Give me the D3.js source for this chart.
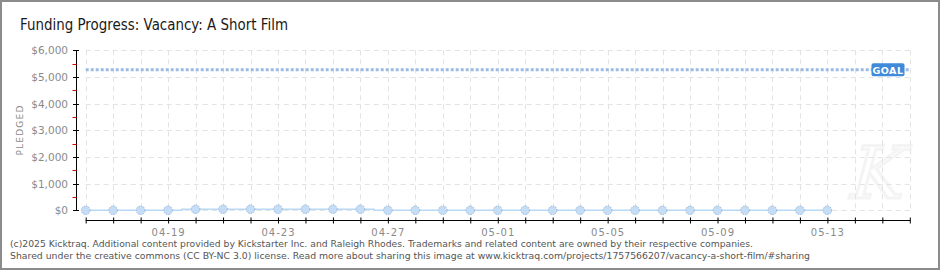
<!DOCTYPE html>
<html>
<head>
<meta charset="utf-8">
<script src="https://cdnjs.cloudflare.com/ajax/libs/d3/7.8.5/d3.min.js"></script>
<style>
  html, body { margin: 0; padding: 0; background: #fff; }
  svg { display: block; }
</style>
</head>
<body>
<div id="chart"></div>
<script>
// Данные графика
const DATES = ['04-16','04-17','04-18','04-19','04-20','04-21','04-22','04-23','04-24','04-25',
               '04-26','04-27','04-28','04-29','04-30','05-01','05-02','05-03','05-04','05-05',
               '05-06','05-07','05-08','05-09','05-10','05-11','05-12','05-13'];
const PLEDGED = [0,0,0,0,40,40,40,40,40,40,40,0,0,0,0,0,0,0,0,0,0,0,0,0,0,0,0,0];
const GOAL = 5270;
const X_DOMAIN = ['04-16','05-16'];
const X_LABELS = ['04-19','04-23','04-27','05-01','05-05','05-09','05-13'];
const Y_TICKS = [0,1000,2000,3000,4000,5000,6000];
const Y_MINOR = [500,1500,2500,3500,4500,5500];

const YEAR = 2025;
const parseDay = s => d3.timeParse('%Y-%m-%d')(`${YEAR}-${s}`);
const fmtDay = d3.timeFormat('%m-%d');

const W = 940, H = 270;
const svg = d3.select('#chart').append('svg')
    .attr('width', W).attr('height', H);

// Рамка
svg.append('rect')
    .attr('x', 1).attr('y', 1)
    .attr('width', W - 2).attr('height', H - 2)
    .attr('fill', '#fff')
    .attr('stroke', '#8c8c8c')
    .attr('stroke-width', 2);

const x = d3.scaleTime()
    .domain(X_DOMAIN.map(parseDay))
    .range([85.7, 909.8]);
const y = d3.scaleLinear()
    .domain([0, 6000])
    .range([210.3, 50.3]);

const days = d3.timeDay.range(parseDay(X_DOMAIN[0]), d3.timeDay.offset(parseDay(X_DOMAIN[1]), 1));

// Водяной знак
svg.append('text')
    .attr('transform', 'translate(872,198) skewX(-15)')
    .attr('text-anchor', 'middle')
    .attr('font-family', 'DejaVu Serif')
    .attr('font-size', 72)
    .attr('fill', 'none')
    .attr('stroke', '#f4f4f4')
    .attr('stroke-width', 3)
    .text('K');

// Сетка
svg.append('g').selectAll('line')
    .data(days)
    .enter().append('line')
    .attr('x1', d => Math.round(x(d)) + 0.5).attr('x2', d => Math.round(x(d)) + 0.5)
    .attr('y1', y(6000)).attr('y2', y(0))
    .attr('stroke', '#e3e3e3').attr('stroke-dasharray', '5,4');

svg.append('g').selectAll('line')
    .data(Y_TICKS)
    .enter().append('line')
    .attr('x1', x.range()[0]).attr('x2', x.range()[1])
    .attr('y1', d => Math.round(y(d)) + 0.5).attr('y2', d => Math.round(y(d)) + 0.5)
    .attr('stroke', '#e3e3e3').attr('stroke-dasharray', '5,4');

// Ось Y
const yAxisX = 76.5;
svg.append('line')
    .attr('x1', yAxisX).attr('x2', yAxisX)
    .attr('y1', y(6000)).attr('y2', y(0))
    .attr('stroke', '#000');
svg.append('g').selectAll('line')
    .data(Y_MINOR)
    .enter().append('line')
    .attr('x1', 72.5).attr('x2', yAxisX)
    .attr('y1', d => Math.round(y(d)) + 0.5).attr('y2', d => Math.round(y(d)) + 0.5)
    .attr('stroke', '#e00000');
svg.append('g').selectAll('line')
    .data(Y_TICKS)
    .enter().append('line')
    .attr('x1', 73).attr('x2', 79)
    .attr('y1', d => Math.round(y(d)) + 0.5).attr('y2', d => Math.round(y(d)) + 0.5)
    .attr('stroke', '#000');
svg.append('g').selectAll('text')
    .data(Y_TICKS)
    .enter().append('text')
    .attr('x', 68).attr('y', d => y(d) + 4)
    .attr('text-anchor', 'end')
    .attr('font-family', 'DejaVu Sans')
    .attr('font-size', 10.5)
    .attr('fill', '#8a8a8a')
    .text(d => '$' + d3.format(',')(d));

svg.append('text')
    .attr('transform', 'translate(23,130) rotate(-90)')
    .attr('text-anchor', 'middle')
    .attr('font-family', 'DejaVu Sans')
    .attr('font-size', 9)
    .attr('letter-spacing', 1.2)
    .attr('fill', '#8a8a8a')
    .text('PLEDGED');

// Ось X
const xAxisY = 220.5;
const xAxis = d3.axisBottom(x)
    .tickValues(days)
    .tickSize(0)
    .tickPadding(8)
    .tickFormat(d => X_LABELS.includes(fmtDay(d)) ? fmtDay(d) : '');
const gx = svg.append('g')
    .attr('transform', `translate(0,${xAxisY})`)
    .call(xAxis);
gx.select('.domain').attr('stroke', '#000').attr('d', `M${x.range()[0]},0H${x.range()[1] + 0.5}`);
gx.selectAll('.tick line').attr('y1', -3).attr('y2', 3).attr('stroke', '#000');
gx.selectAll('.tick text')
    .attr('font-family', 'DejaVu Sans')
    .attr('font-size', 10)
    .attr('letter-spacing', 1)
    .attr('fill', '#8a8a8a');

// Линия цели
svg.append('line')
    .attr('x1', x.range()[0]).attr('x2', x.range()[1])
    .attr('y1', y(GOAL)).attr('y2', y(GOAL))
    .attr('stroke', '#9bbbe3')
    .attr('stroke-width', 3)
    .attr('stroke-dasharray', '3,2');

const goalG = svg.append('g')
    .attr('transform', `translate(888,${y(GOAL)})`);
goalG.append('rect')
    .attr('x', -16.5).attr('y', -6.5)
    .attr('width', 33).attr('height', 13)
    .attr('rx', 2)
    .attr('fill', '#3f8ad9');
goalG.append('text')
    .attr('x', 0).attr('y', 3.8)
    .attr('text-anchor', 'middle')
    .attr('font-family', 'DejaVu Sans')
    .attr('font-weight', 'bold')
    .attr('font-size', 9.5)
    .attr('letter-spacing', 0.5)
    .attr('fill', '#fff')
    .text('GOAL');

// Серия
const series = DATES.map((d, i) => ({ date: parseDay(d), value: PLEDGED[i] }));
svg.append('path')
    .datum(series)
    .attr('fill', 'none')
    .attr('stroke', '#b9d8f6')
    .attr('stroke-width', 1.6)
    .attr('d', d3.line().x(d => x(d.date)).y(d => y(d.value)).curve(d3.curveStep));

svg.append('g').selectAll('circle')
    .data(series)
    .enter().append('circle')
    .attr('cx', d => x(d.date)).attr('cy', d => y(d.value))
    .attr('r', 4.3)
    .attr('fill', '#c6ddf6')
    .attr('stroke', '#94b2d6')
    .attr('stroke-width', 0.9)
    .attr('stroke-dasharray', '1.5,1');

// Заголовок
svg.append('text')
    .attr('x', 20).attr('y', 29.5)
    .attr('font-family', 'DejaVu Sans')
    .attr('font-size', 15.5)
    .attr('textLength', 268)
    .attr('lengthAdjust', 'spacingAndGlyphs')
    .attr('fill', '#1a1a1a')
    .text('Funding Progress: Vacancy: A Short Film');

// Подвал
const FOOTER = [
    { text: '(c)2025 Kicktraq. Additional content provided by Kickstarter Inc. and Raleigh Rhodes. Trademarks and related content are owned by their respective companies.', y: 247, len: 743 },
    { text: 'Shared under the creative commons (CC BY-NC 3.0) license. Read more about sharing this image at www.kicktraq.com/projects/1757566207/vacancy-a-short-film/#sharing', y: 259, len: 800 }
];
svg.append('g').selectAll('text')
    .data(FOOTER)
    .enter().append('text')
    .attr('x', 10).attr('y', d => d.y)
    .attr('font-family', 'DejaVu Sans')
    .attr('font-size', 9.5)
    .attr('textLength', d => d.len)
    .attr('lengthAdjust', 'spacingAndGlyphs')
    .attr('fill', '#555')
    .text(d => d.text);
</script>
</body>
</html>
